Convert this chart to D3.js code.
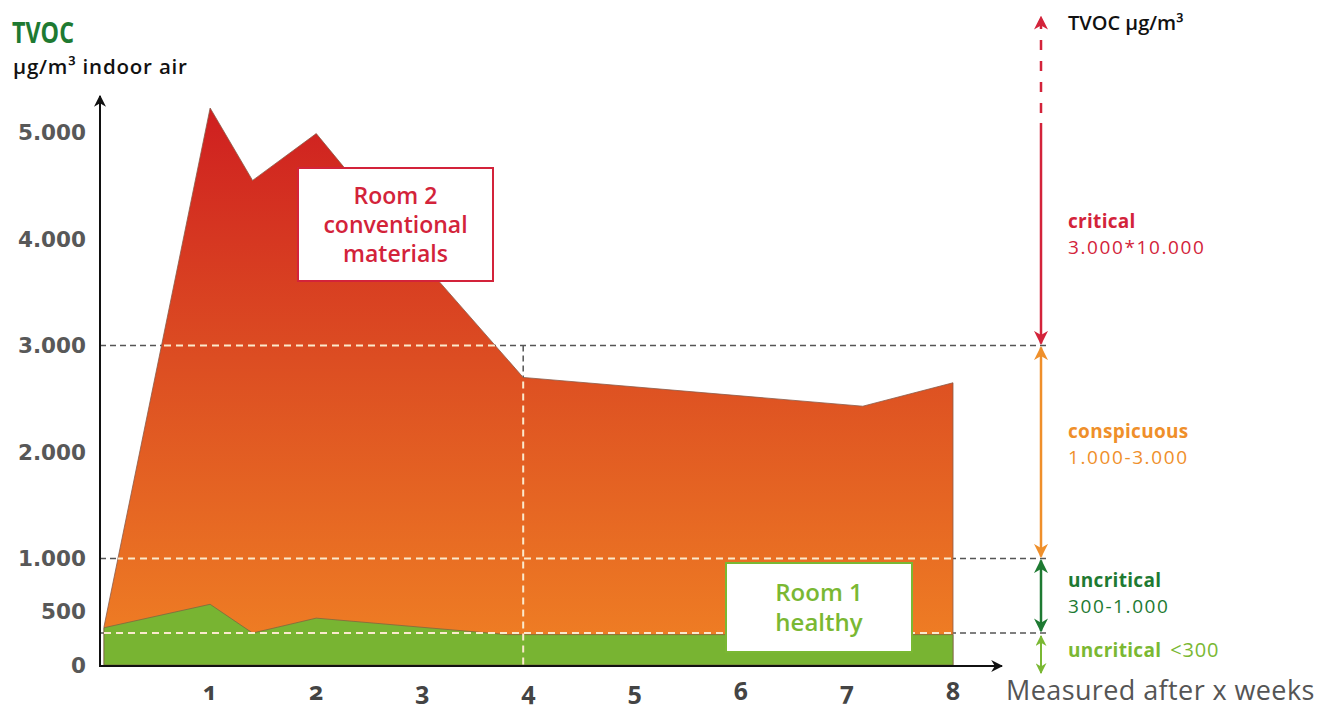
<!DOCTYPE html>
<html>
<head>
<meta charset="utf-8">
<script src="https://cdn.jsdelivr.net/npm/d3@7"></script>
<style>
  body { margin: 0; background: #fff; }
  svg { display: block; font-family: "Open Sans", sans-serif; }
</style>
</head>
<body>
<div id="chart"></div>
<script>
// data
var weeksRoom2 = [0, 1, 1.4, 2, 3, 3.95, 7.15, 8];
var room2 = [360, 5230, 4550, 4990, 3780, 2700, 2430, 2650];
var weeksRoom1 = [0, 1, 1.4, 2, 3.8, 8];
var room1 = [350, 570, 300, 440, 285, 285];
var yTicks = [0, 500, 1000, 2000, 3000, 4000, 5000];
var xTicks = [1, 2, 3, 4, 5, 6, 7, 8];
var thresholds = [300, 1000, 3000];
var bandNames = ["uncritical", "uncritical", "conspicuous", "critical"];
var bandRanges = ["<300", "300-1.000", "1.000-3.000", "3.000*10.000"];
var bandColors = ["#7ab833", "#1e7a32", "#ef8f2a", "#d3233a"];

var W = 1332, H = 708;

var svg = d3.select("#chart").append("svg")
    .attr("width", W)
    .attr("height", H);

var x = d3.scaleLinear().domain([0, 8]).range([104, 953]);
var y = d3.scaleLinear().domain([0, 5000]).range([665, 132.5]);

var de = d3.formatLocale({decimal: ",", thousands: ".", grouping: [3], currency: ["", ""]});
var fmt = de.format(",");

var defs = svg.append("defs");

var grad = defs.append("linearGradient")
    .attr("id", "redGrad")
    .attr("gradientUnits", "userSpaceOnUse")
    .attr("x1", 0).attr("x2", 0)
    .attr("y1", y(5230)).attr("y2", y(0));
grad.append("stop").attr("offset", "0%").attr("stop-color", "#cf1f20");
grad.append("stop").attr("offset", "45%").attr("stop-color", "#dc4d22");
grad.append("stop").attr("offset", "100%").attr("stop-color", "#f08124");

// arrow markers
function addMarker(id, color, size) {
    defs.append("marker")
        .attr("id", id)
        .attr("viewBox", "0 -5 10 10")
        .attr("refX", 9).attr("refY", 0)
        .attr("markerUnits", "userSpaceOnUse")
        .attr("markerWidth", size).attr("markerHeight", size)
        .attr("orient", "auto-start-reverse")
        .append("path")
        .attr("d", "M0,-5L10,0L0,5L3,0Z")
        .attr("fill", color);
}
addMarker("arrBlack", "#111", 12);
bandColors.forEach(function(c, i) { addMarker("arr" + i, c, i == 0 ? 11 : 14); });

var seriesTwo = weeksRoom2.map(function(w, i) { return {w: w, v: room2[i]}; });
var seriesOne = weeksRoom1.map(function(w, i) { return {w: w, v: room1[i]}; });

var area = d3.area()
    .x(function(d) { return x(d.w); })
    .y0(y(0))
    .y1(function(d) { return y(d.v); });

// gray dashed guides (below the areas)
var guideRight = 1046;
svg.selectAll(".guide")
    .data(thresholds)
    .enter().append("line")
    .attr("class", "guide")
    .attr("x1", x(0) - 4).attr("x2", guideRight)
    .attr("y1", function(d) { return y(d); })
    .attr("y2", function(d) { return y(d); })
    .attr("stroke", "#555")
    .attr("stroke-width", 1.5)
    .attr("stroke-dasharray", "6,4");

svg.append("line")
    .attr("x1", x(3.95)).attr("x2", x(3.95))
    .attr("y1", y(3000)).attr("y2", y(0))
    .attr("stroke", "#555")
    .attr("stroke-width", 1.5)
    .attr("stroke-dasharray", "6,4");

// areas
svg.append("path")
    .datum(seriesTwo)
    .attr("d", area)
    .attr("fill", "url(#redGrad)")
    .attr("stroke", "#8a5a48")
    .attr("stroke-width", 0.8);

svg.append("path")
    .datum(seriesOne)
    .attr("d", area)
    .attr("fill", "#78b432")
    .attr("stroke", "#7a6a40")
    .attr("stroke-width", 0.8);

// light dashed guides on top of the areas
defs.append("clipPath").attr("id", "areaClip")
    .append("path")
    .datum(seriesTwo)
    .attr("d", area);

var light = svg.append("g").attr("clip-path", "url(#areaClip)");
light.selectAll("line.h")
    .data(thresholds)
    .enter().append("line")
    .attr("class", "h")
    .attr("x1", x(0)).attr("x2", x(8))
    .attr("y1", function(d) { return y(d); })
    .attr("y2", function(d) { return y(d); })
    .attr("stroke", "#fbe9cc")
    .attr("stroke-width", 2)
    .attr("stroke-dasharray", "7,5");
light.append("line")
    .attr("x1", x(3.95)).attr("x2", x(3.95))
    .attr("y1", y(3000)).attr("y2", y(0))
    .attr("stroke", "#fbe9cc")
    .attr("stroke-width", 2)
    .attr("stroke-dasharray", "7,5");

// axes
svg.append("line")
    .attr("x1", 100).attr("x2", 100)
    .attr("y1", y(0) + 1).attr("y2", 96)
    .attr("stroke", "#111").attr("stroke-width", 2)
    .attr("marker-end", "url(#arrBlack)");
svg.append("line")
    .attr("x1", 99).attr("x2", 1002)
    .attr("y1", y(0) + 1).attr("y2", y(0) + 1)
    .attr("stroke", "#111").attr("stroke-width", 2)
    .attr("marker-end", "url(#arrBlack)");

svg.selectAll(".ylab")
    .data(yTicks)
    .enter().append("text")
    .attr("class", "ylab")
    .attr("x", 86)
    .attr("y", function(d) { return y(d); })
    .attr("dy", "0.36em")
    .attr("text-anchor", "end")
    .style("font-family", "DejaVu Sans, sans-serif")
    .style("font-weight", "bold")
    .style("font-size", "21.5px")
    .style("fill", "#585858")
    .text(fmt);

svg.selectAll(".xlab")
    .data(xTicks)
    .enter().append("text")
    .attr("class", "xlab")
    .attr("x", function(d) { return x(d); })
    .attr("y", 700)
    .attr("text-anchor", "middle")
    .style("font-weight", 700)
    .style("font-size", "25px")
    .style("font-variant-numeric", "oldstyle-nums")
    .style("fill", "#444")
    .text(function(d) { return d; });

svg.append("text")
    .attr("x", 1006).attr("y", 700)
    .style("font-size", "27px")
    .style("font-weight", 500)
    .style("letter-spacing", "0.4px")
    .style("fill", "#555")
    .text("Measured after x weeks");

// title
svg.append("text")
    .attr("x", 12).attr("y", 43)
    .attr("textLength", 62)
    .attr("lengthAdjust", "spacingAndGlyphs")
    .style("font-size", "29px")
    .style("font-weight", 700)
    .style("fill", "#1e7a32")
    .text("TVOC");
svg.append("text")
    .attr("x", 13).attr("y", 74)
    .style("font-size", "20.5px")
    .style("font-weight", 600)
    .style("letter-spacing", "0.8px")
    .style("fill", "#111")
    .text("µg/m³ indoor air");

// room labels
function roomBox(x0, y0, w, h, color, lines, lineH, size) {
    svg.append("rect")
        .attr("x", x0).attr("y", y0)
        .attr("width", w).attr("height", h)
        .attr("fill", "#fff")
        .attr("stroke", color)
        .attr("stroke-width", 2);
    var t = svg.append("text")
        .attr("text-anchor", "middle")
        .style("font-size", size + "px")
        .style("font-weight", 600)
        .style("fill", color);
    var top = y0 + h / 2 - (lines.length - 1) * lineH / 2;
    lines.forEach(function(l, i) {
        t.append("tspan")
            .attr("x", x0 + w / 2)
            .attr("y", top + i * lineH)
            .attr("dy", "0.35em")
            .text(l);
    });
}
roomBox(298, 168, 195, 113, "#d3233a", ["Room 2", "conventional", "materials"], 29, 23);
roomBox(726, 563, 186, 89, "#7ab833", ["Room 1", "healthy"], 30, 24);

// legend on the right
var lx = 1041;
svg.append("text")
    .attr("x", 1068).attr("y", 30)
    .style("font-size", "20px")
    .style("font-weight", 600)
    .style("fill", "#111")
    .text("TVOC µg/m³");

var bandTop = [y(300) + 3, y(1000) + 2, y(3000) + 2, 123];
var bandBottom = [y(0) + 8, y(300) - 2, y(1000) - 2, y(3000) - 2];

bandColors.forEach(function(c, i) {
    svg.append("line")
        .attr("x1", lx).attr("x2", lx)
        .attr("y1", bandBottom[i]).attr("y2", bandTop[i])
        .attr("stroke", c)
        .attr("stroke-width", i == 0 ? 2 : 2.5)
        .attr("marker-start", "url(#arr" + i + ")")
        .attr("marker-end", i == 3 ? null : "url(#arr" + i + ")");
});
// dashed continuation of the critical band
svg.append("line")
    .attr("x1", lx).attr("x2", lx)
    .attr("y1", 113).attr("y2", 17)
    .attr("stroke", bandColors[3])
    .attr("stroke-width", 2.5)
    .attr("stroke-dasharray", "10,11")
    .attr("marker-end", "url(#arr3)");

var labelY = [650, 580, 431, 221];
bandColors.forEach(function(c, i) {
    var t = svg.append("text")
        .attr("x", 1068).attr("y", labelY[i])
        .attr("dy", "0.35em")
        .style("font-size", "19px")
        .style("fill", c);
    t.append("tspan").style("font-weight", 700).style("letter-spacing", "0.3px").text(bandNames[i]);
    if (i == 0) {
        t.append("tspan").attr("dx", 9).style("font-size", "20px").style("letter-spacing", "0.8px").text(bandRanges[i]);
    } else {
        t.append("tspan")
            .attr("x", 1068).attr("dy", 26)
            .style("letter-spacing", "1.6px")
            .text(bandRanges[i]);
    }
});
</script>
</body>
</html>
